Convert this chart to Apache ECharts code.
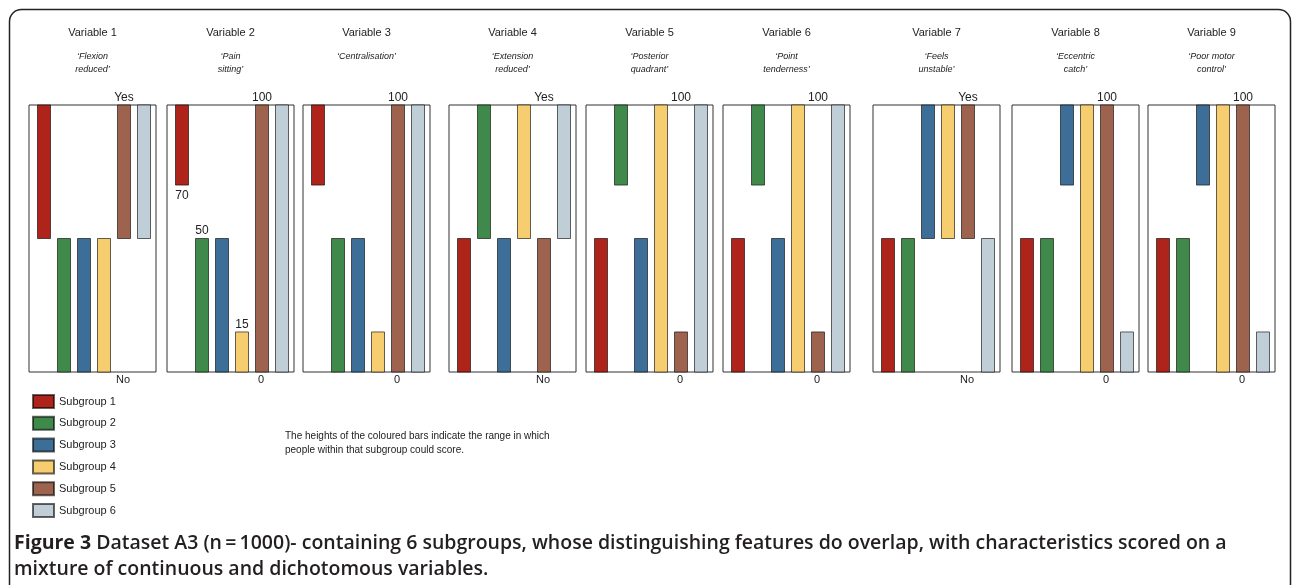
<!DOCTYPE html>
<html>
<head>
<meta charset="utf-8">
<script src="https://cdn.jsdelivr.net/npm/echarts@6/dist/echarts.min.js"></script>
<style>
  html, body { margin: 0; padding: 0; background: #fff; }
  #chart { width: 1292px; height: 585px; }
</style>
</head>
<body>
<div id="chart"></div>
<script>
// data
const variables = ['Variable 1', 'Variable 2', 'Variable 3', 'Variable 4', 'Variable 5', 'Variable 6', 'Variable 7', 'Variable 8', 'Variable 9']
const descriptions = [
  '‘Flexion\nreduced’', '‘Pain\nsitting’', '‘Centralisation’',
  '‘Extension\nreduced’', '‘Posterior\nquadrant’', '‘Point\ntenderness’',
  '‘Feels\nunstable’', '‘Eccentric\ncatch’', '‘Poor motor\ncontrol’',
]
const subgroups = ['Subgroup 1', 'Subgroup 2', 'Subgroup 3', 'Subgroup 4', 'Subgroup 5', 'Subgroup 6']
const scaleTop = ['Yes', '100', '100', 'Yes', '100', '100', 'Yes', '100', '100']
const scaleBottom = ['No', '0', '0', 'No', '0', '0', 'No', '0', '0']
// lower and upper end of each subgroup's range, one row per variable
const lows = [
  [50, 0, 0, 0, 50, 50],
  [70, 0, 0, 0, 0, 0],
  [70, 0, 0, 0, 0, 0],
  [0, 50, 0, 50, 0, 50],
  [0, 70, 0, 0, 0, 0],
  [0, 70, 0, 0, 0, 0],
  [0, 0, 50, 50, 50, 0],
  [0, 0, 70, 0, 0, 0],
  [0, 0, 70, 0, 0, 0],
]
const highs = [
  [100, 50, 50, 50, 100, 100],
  [100, 50, 50, 15, 100, 100],
  [100, 50, 50, 15, 100, 100],
  [50, 100, 50, 100, 50, 100],
  [50, 100, 50, 100, 15, 100],
  [50, 100, 50, 100, 15, 100],
  [50, 50, 100, 100, 100, 50],
  [50, 50, 100, 100, 100, 15],
  [50, 50, 100, 100, 100, 15],
]
// [variable, subgroup, value] printed next to a bar end
const valueLabels = [[1, 0, 70], [1, 1, 50], [1, 3, 15]]
const footnote = 'The heights of the coloured bars indicate the range in which\npeople within that subgroup could score.'
const captionLines = [
  'Dataset A3 (n\u2009=\u20091000)- containing 6 subgroups, whose distinguishing features do overlap, with characteristics scored on a',
  'mixture of continuous and dichotomous variables.',
]

// layout
const colors = ['#ae241b', '#3f8a4a', '#3d6e98', '#f6cd6f', '#9e634f', '#c0ced7']
const panelLeft = [29, 167, 303, 449, 586, 723, 873, 1012, 1148]
const panelTop = 105
const panelWidth = 127
const panelHeight = 267
const barWidth = 13
const font = '"Liberation Sans", Arial, sans-serif'
const captionFont = '"Open Sans", sans-serif'

const grid = []
const xAxis = []
const yAxis = []
const title = []
const series = []
const graphic = []

variables.forEach((name, i) => {
  const left = panelLeft[i]
  grid.push({
    left,
    top: panelTop,
    width: panelWidth,
    height: panelHeight,
    show: true,
    backgroundColor: '#fff',
    borderColor: '#333',
    borderWidth: 1,
  })
  xAxis.push({ gridIndex: i, type: 'value', min: -0.7, max: 5.65, show: false })
  yAxis.push({ gridIndex: i, type: 'value', min: 0, max: 100, show: false })
  title.push({
    text: name,
    subtext: descriptions[i],
    left: left + panelWidth / 2,
    top: 27,
    textAlign: 'center',
    padding: 0,
    itemGap: 11,
    textStyle: { fontFamily: font, fontSize: 11, fontWeight: 'normal', color: '#222', lineHeight: 12 },
    subtextStyle: { fontFamily: font, fontSize: 9, fontStyle: 'italic', color: '#222', lineHeight: 13 },
  })
  graphic.push({
    type: 'text',
    x: left + 95,
    y: 98,
    style: { text: scaleTop[i], fontFamily: font, fontSize: 12, fill: '#222', align: 'center', verticalAlign: 'middle' },
  })
  graphic.push({
    type: 'text',
    x: left + 94,
    y: 380,
    style: { text: scaleBottom[i], fontFamily: font, fontSize: 11, fill: '#222', align: 'center', verticalAlign: 'middle' },
  })

  subgroups.forEach((sub, k) => {
    const lab = valueLabels.find((v) => v[0] === i && v[1] === k)
    series.push({
      type: 'custom',
      name: sub,
      xAxisIndex: i,
      yAxisIndex: i,
      itemStyle: { color: colors[k], borderColor: 'rgba(0,0,0,0.6)', borderWidth: 1 },
      data: [[k, lows[i][k], highs[i][k]]],
      renderItem: (params, api) => {
        const p0 = api.coord([api.value(0), api.value(1)])
        const p1 = api.coord([api.value(0), api.value(2)])
        const el = {
          type: 'rect',
          shape: { x: Math.round(p0[0] - barWidth / 2) + 0.5, y: p1[1], width: barWidth, height: p0[1] - p1[1] },
          style: { fill: colors[k], stroke: 'rgba(0,0,0,0.6)', lineWidth: 1 },
        }
        if (lab) {
          const atBottom = lab[2] === lows[i][k] && lab[2] !== highs[i][k]
          el.textContent = { style: { text: String(lab[2]), fontFamily: font, fontSize: 12, fill: '#222' } }
          el.textConfig = { position: atBottom ? 'bottom' : 'top', distance: atBottom ? 4 : 1 }
        }
        return el
      },
    })
  })
})

graphic.push({
  type: 'rect',
  z: 100,
  shape: { x: 9.5, y: 9.5, width: 1281, height: 620, r: 12 },
  style: { fill: 'none', stroke: '#222', lineWidth: 1.5 },
})
graphic.push({
  type: 'text',
  x: 285,
  y: 429,
  style: { text: footnote, fontFamily: font, fontSize: 10, lineHeight: 14, fill: '#222' },
})
graphic.push({
  type: 'text',
  x: 14,
  y: 530,
  style: {
    text: '{b|Figure 3} ' + captionLines.join('\n'),
    fontFamily: captionFont,
    fontSize: 19.5,
    fontWeight: 600,
    lineHeight: 26,
    fill: '#231f20',
    rich: {
      b: { fontFamily: captionFont, fontSize: 19.5, fontWeight: 'bold', fill: '#231f20', lineHeight: 26 },
    },
  },
})

const myChart = echarts.init(document.getElementById('chart'))
myChart.setOption({
  animation: false,
  title,
  grid,
  xAxis,
  yAxis,
  legend: {
    data: subgroups,
    orient: 'vertical',
    left: 32,
    top: 394,
    padding: 0,
    itemWidth: 21,
    itemHeight: 13,
    itemGap: 6.8,
    icon: 'rect',
    selectedMode: false,
    textStyle: { fontFamily: font, fontSize: 11, color: '#222' },
  },
  graphic,
  series,
})
</script>
</body>
</html>
